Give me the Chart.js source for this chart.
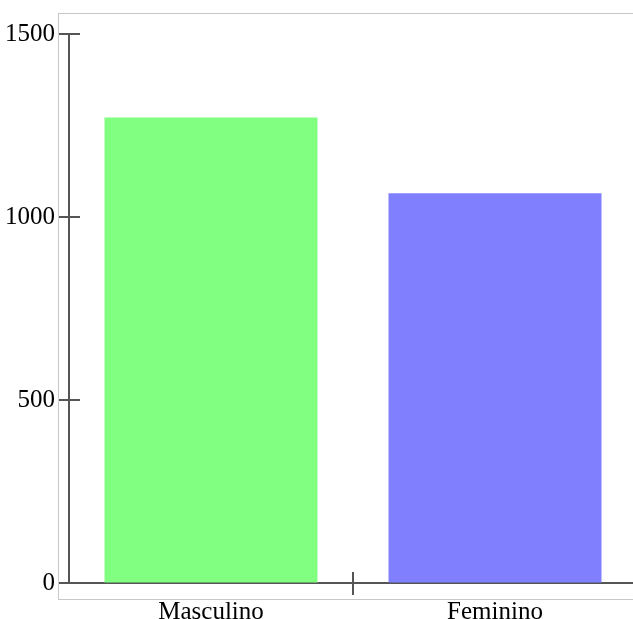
<!DOCTYPE html>
<html lang="pt">
<head>
    <meta charset="UTF-8">
    <title>Sexo</title>
    <script src="https://cdn.jsdelivr.net/npm/chart.js"></script>
    <style>
        body {
            margin: 0;
            width: 633px;
            height: 619px;
            overflow: hidden;
            background: #fff;
            position: relative;
        }
        #frame {
            position: absolute;
            left: 58px;
            top: 13px;
            width: 620px;
            height: 585px;
            border: 1px solid #c8c8c8;
        }
        #wrap {
            position: absolute;
            left: 0;
            top: 0;
        }
    </style>
</head>
<body>
    <div id="frame"></div>
    <div id="wrap"><canvas id="chart" width="640" height="619"></canvas></div>
    <script>
        const categories = ['Masculino', 'Feminino'];
        const counts = [1272, 1065];
        const barColors = ['#80ff80', '#8080ff'];
        const yTicks = [0, 500, 1000, 1500];

        const axisColor = '#555';

        // little tick marks that cross the axis lines
        const crossTicks = {
            id: 'crossTicks',
            afterDatasetsDraw(chart) {
                const { ctx, chartArea, scales } = chart;
                ctx.save();
                ctx.strokeStyle = axisColor;
                ctx.lineWidth = 2;
                ctx.beginPath();
                scales.y.ticks.forEach((t, i) => {
                    const y = Math.round(scales.y.getPixelForTick(i));
                    ctx.moveTo(chartArea.left - 10, y);
                    ctx.lineTo(chartArea.left + 11, y);
                });
                for (let i = 1; i < categories.length; i++) {
                    const x = Math.round((scales.x.getPixelForValue(i - 1) + scales.x.getPixelForValue(i)) / 2);
                    ctx.moveTo(x, chartArea.bottom - 11);
                    ctx.lineTo(x, chartArea.bottom + 12);
                }
                ctx.stroke();
                ctx.restore();
            }
        };

        new Chart(document.getElementById('chart'), {
            type: 'bar',
            data: {
                labels: categories,
                datasets: [{
                    data: counts,
                    backgroundColor: barColors,
                    borderWidth: 0,
                    categoryPercentage: 1,
                    barPercentage: 0.75
                }]
            },
            options: {
                responsive: false,
                animation: false,
                layout: { padding: { top: 34, right: 3, left: 0, bottom: 0 } },
                plugins: {
                    legend: { display: false },
                    tooltip: { enabled: false }
                },
                scales: {
                    x: {
                        offset: true,
                        grid: { drawOnChartArea: false, drawTicks: false, color: 'transparent' },
                        border: { display: true, color: axisColor, width: 2 },
                        ticks: {
                            padding: 14,
                            color: '#000',
                            font: { family: 'Liberation Serif', size: 25 }
                        },
                        afterFit(scale) { scale.height = 36; }
                    },
                    y: {
                        min: 0,
                        max: yTicks[yTicks.length - 1],
                        afterBuildTicks(scale) {
                            scale.ticks = yTicks.map(v => ({ value: v }));
                        },
                        grid: { drawOnChartArea: false, drawTicks: false, color: 'transparent' },
                        border: { display: true, color: axisColor, width: 2 },
                        ticks: {
                            padding: 14,
                            color: '#000',
                            font: { family: 'Liberation Serif', size: 25 },
                            callback: v => String(v)
                        },
                        afterFit(scale) { scale.width = 69; }
                    }
                }
            },
            plugins: [crossTicks]
        });
    </script>
</body>
</html>
